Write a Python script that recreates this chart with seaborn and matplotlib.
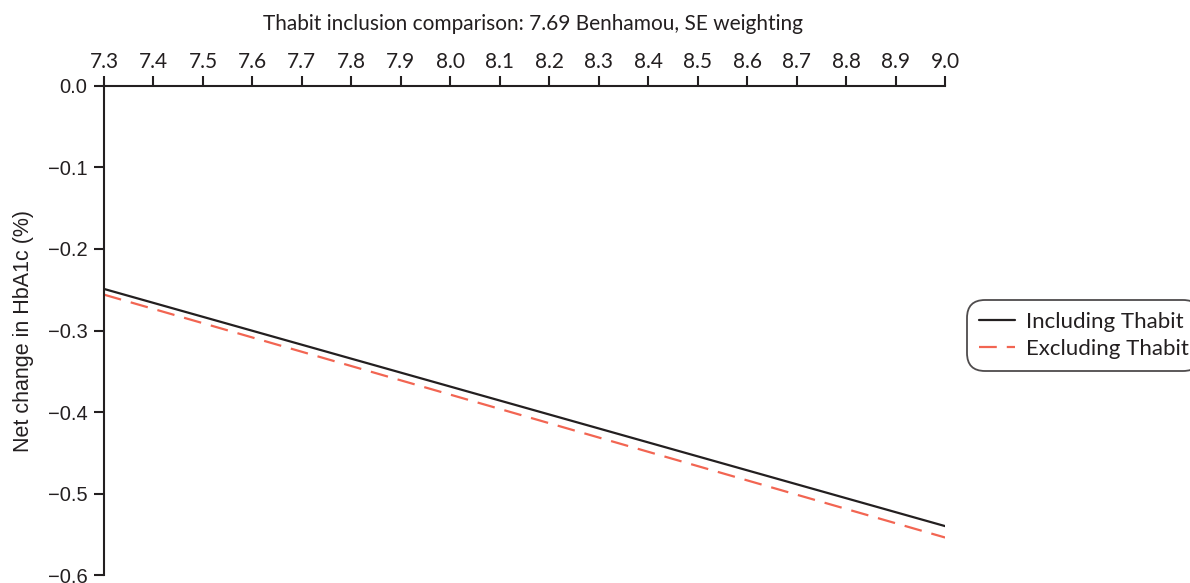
import matplotlib
matplotlib.use("Agg")
import matplotlib.pyplot as plt
import seaborn as sns
import pandas as pd
import numpy as np

# Data
hba1c_baseline = [7.3, 9.0]
including_thabit = [-0.249, -0.540]
excluding_thabit = [-0.256, -0.554]
series_names = ["Including Thabit", "Excluding Thabit"]
x_ticks = [7.3, 7.4, 7.5, 7.6, 7.7, 7.8, 7.9, 8.0, 8.1, 8.2, 8.3, 8.4, 8.5, 8.6, 8.7, 8.8, 8.9, 9.0]
y_ticks = [0.0, -0.1, -0.2, -0.3, -0.4, -0.5, -0.6]

df = pd.DataFrame({
    "x": hba1c_baseline * 2,
    "y": including_thabit + excluding_thabit,
    "series": [series_names[0]] * 2 + [series_names[1]] * 2,
})

sns.set_theme(style="white")
plt.rcParams['font.family'] = ['Lato', 'DejaVu Sans']
text_color = "#231f20"
plt.rcParams['text.color'] = text_color
plt.rcParams['axes.labelcolor'] = text_color
plt.rcParams['xtick.color'] = text_color
plt.rcParams['ytick.color'] = text_color

fs = 15
arial = ['Liberation Sans', 'DejaVu Sans']

fig = plt.figure(figsize=(11.9, 5.83), dpi=100)
ax = fig.add_axes([0.0874, 0.0137, 0.7068, 0.8388])

palette = {series_names[0]: "#231f20", series_names[1]: "#f26552"}
sns.lineplot(data=df, x="x", y="y", hue="series", style="series",
             palette=palette, dashes={series_names[0]: "", series_names[1]: (8, 4.5)},
             linewidth=1.6, ax=ax, legend=True)

ax.set_xlim(7.3, 9.0)
ax.set_ylim(-0.6, 0.0)
ax.xaxis.tick_top()
ax.xaxis.set_label_position("top")
ax.set_xticks(x_ticks)
ax.set_xticklabels([f"{t:.1f}" for t in x_ticks], fontsize=fs)
ax.set_yticks(y_ticks)
ax.set_yticklabels([f"{t:.1f}".replace("-", "\u2212") for t in y_ticks], fontsize=14.5, family=arial)
ax.set_xlabel("Thabit inclusion comparison: 7.69 Benhamou, SE weighting", fontsize=fs, labelpad=16)
ax.xaxis.label.set_x(0.5095)
ax.set_ylabel("Net change in HbA1c (%)", fontsize=15.5, family=arial, labelpad=10)

for s in ["right", "bottom"]:
    ax.spines[s].set_visible(False)
for s in ["top", "left"]:
    ax.spines[s].set_color(text_color)
    ax.spines[s].set_linewidth(1.5)
ax.tick_params(axis="x", direction="out", length=7, width=1.5, top=True, bottom=False, pad=3)
ax.tick_params(axis="y", direction="out", length=7, width=1.5, left=True, pad=5)

handles, labels = ax.get_legend_handles_labels()
leg = ax.legend(handles, labels, loc="center left", bbox_to_anchor=(1.018, 0.49),
                fontsize=16, frameon=True, fancybox=True, edgecolor=text_color,
                handlelength=1.6, handletextpad=0.5, borderpad=0.35, labelspacing=0.3)
leg.get_frame().set_linewidth(1.3)
leg.get_frame().set_boxstyle("round,pad=0.2,rounding_size=0.8")

fig.savefig("out.png", dpi=100)
